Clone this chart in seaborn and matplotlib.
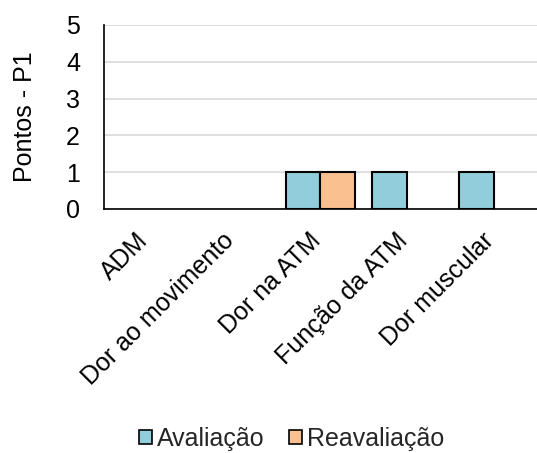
import matplotlib
matplotlib.use("Agg")
import matplotlib.pyplot as plt
import matplotlib.transforms as mtransforms
import seaborn as sns
import pandas as pd
from matplotlib.patches import Patch

categories = ["ADM", "Dor ao movimento", "Dor na ATM", "Função da ATM", "Dor muscular"]
avaliacao = [0, 0, 1, 1, 1]
reavaliacao = [0, 0, 1, 0, 0]
series = ["Avaliação", "Reavaliação"]
colors = ["#92CDDC", "#FAC090"]

df = pd.DataFrame({
    "cat": categories * 2,
    "val": avaliacao + reavaliacao,
    "serie": [series[0]] * len(categories) + [series[1]] * len(categories),
})

sns.set_style("white")
plt.rcParams["font.family"] = ["Liberation Sans", "DejaVu Sans"]

fig = plt.figure(figsize=(5.37, 4.53), dpi=100)
ax = fig.add_axes([103.5 / 537, 1 - 209 / 453, (537 - 103.5) / 537, (209 - 25) / 453])

sns.barplot(data=df, x="cat", y="val", hue="serie", palette=colors, ax=ax,
            width=0.8, edgecolor="black", linewidth=1.5, legend=False,
            saturation=1, zorder=3)
for p in ax.patches:
    if p.get_height() == 0:
        p.set_visible(False)

ax.set_ylim(0, 5)
ax.set_xlim(-0.5, 4.5)
ax.set_yticks(range(0, 6))
ax.yaxis.grid(True, color="#D9D9D9", linewidth=1.2, zorder=0)
ax.set_axisbelow(True)
for s in ["top", "right"]:
    ax.spines[s].set_visible(False)
ax.spines["left"].set_color("black")
ax.spines["bottom"].set_color("black")
ax.spines["left"].set_linewidth(1.2)
ax.spines["bottom"].set_linewidth(1.2)
ax.tick_params(axis="both", length=0, labelsize=18, colors="black")
ax.tick_params(axis="y", pad=17)
ax.set_xlabel("")
ax.set_ylabel("Pontos - P1", fontsize=18, labelpad=21, color="black")
ax.tick_params(axis="x", pad=20)
offset = mtransforms.ScaledTranslation(-3 / 100, 0, fig.dpi_scale_trans)
for lbl in ax.get_xticklabels():
    lbl.set_rotation(45)
    lbl.set_ha("right")
    lbl.set_va("center")
    lbl.set_rotation_mode("anchor")
    lbl.set_transform(lbl.get_transform() + offset)

handles = [Patch(facecolor=c, edgecolor="black", linewidth=1.2) for c in colors]
fig.legend(handles, series, loc="center", bbox_to_anchor=(0.543, 1 - 439 / 453),
           ncol=2, frameon=False, fontsize=18, handlelength=0.5, handleheight=0.5,
           handletextpad=0.2, columnspacing=1.0)

fig.savefig("out.png", dpi=100)
